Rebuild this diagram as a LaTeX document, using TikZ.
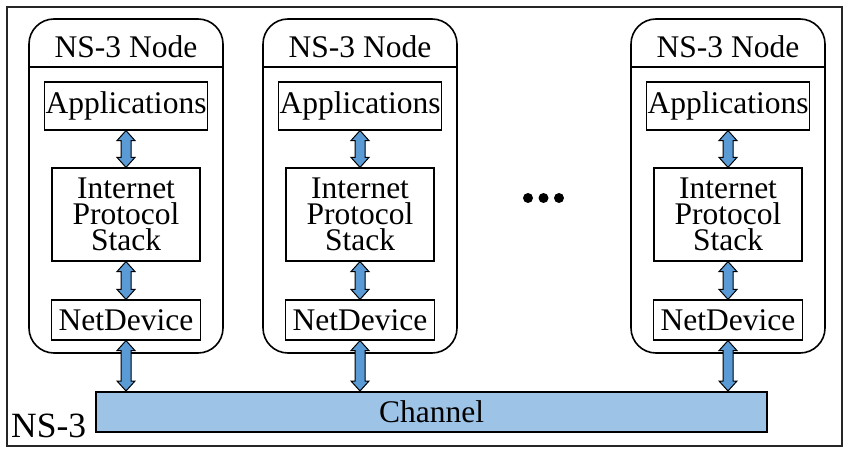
\documentclass[tikz,border=0pt]{standalone}
\usepackage{fontspec}
\setmainfont{Liberation Serif}
\usetikzlibrary{calc}
\definecolor{arrowblue}{HTML}{5B9BD5}
\definecolor{chanblue}{HTML}{9DC3E6}
\tikzset{
  shell/.style={draw, line width=1.6pt, rounded corners=25pt, minimum width=194pt, minimum height=334pt, inner sep=0pt},
  layer/.style={draw, line width=1.2pt, inner sep=0pt, font=\fontsize{31.5}{26}\selectfont, align=center},
  titletext/.style={inner sep=0pt, anchor=base, font=\fontsize{31.5}{26}\selectfont},
  barrowstyle/.style={draw=black, fill=arrowblue, line width=1pt, line join=miter},
  dotstyle/.style={fill=black, circle, inner sep=0pt, minimum size=10pt},
}
\newcommand\nsarrow[2]{%
  \path[barrowstyle] let \p1=(#1), \p2=(#2) in
    (\x1,\y1) -- (\x1+9pt,\y1-10pt) -- (\x1+5pt,\y1-10pt) -- (\x1+5pt,\y2+10pt)
    -- (\x1+9pt,\y2+10pt) -- (\x1,\y2) -- (\x1-9pt,\y2+10pt) -- (\x1-5pt,\y2+10pt)
    -- (\x1-5pt,\y1-10pt) -- (\x1-9pt,\y1-10pt) -- cycle;}
\begin{document}
\begin{tikzpicture}[x=1pt,y=-1pt]
\useasboundingbox (0,0) rectangle (850,454);
\node[draw=black!85, line width=1.5pt, minimum width=835pt, minimum height=439pt, inner sep=0pt] (frame) at (424.5,226.5) {};
\node[inner sep=0pt, anchor=base west, font=\fontsize{35.5}{36}\selectfont] (nslabel) at (11,437) {NS-3};
\node[draw, line width=2pt, fill=chanblue, minimum width=671pt, minimum height=40pt, inner sep=0pt, font=\fontsize{31.5}{26}\selectfont] (chan) at (431.5,412) {Channel};
\foreach \i/\cx in {1/126, 2/360, 3/728} {
  \node[shell] (s\i) at (\cx,186) {};
  \draw[line width=1.6pt] (s\i.west |- 0,67) -- (s\i.east |- 0,67);
  \node[titletext] (t\i) at (\cx,58) {NS-3 Node};
  \node[layer, minimum width=163pt, minimum height=48pt] (app\i) at (\cx,106) {Applications};
  \node[layer, minimum width=148pt, minimum height=93pt] (ip\i) at (\cx,214.5) {Internet\\Protocol\\Stack};
  \node[layer, minimum width=149pt, minimum height=40pt] (nd\i) at (\cx,320) {NetDevice};
  \nsarrow{app\i.south}{ip\i.north}
  \nsarrow{ip\i.south}{nd\i.north}
  \nsarrow{nd\i.south}{chan.north}
}
\node[dotstyle] (d1) at (528,198) {};
\node[dotstyle] (d2) at (543.5,198) {};
\node[dotstyle] (d3) at (559,198) {};
\end{tikzpicture}
\end{document}
